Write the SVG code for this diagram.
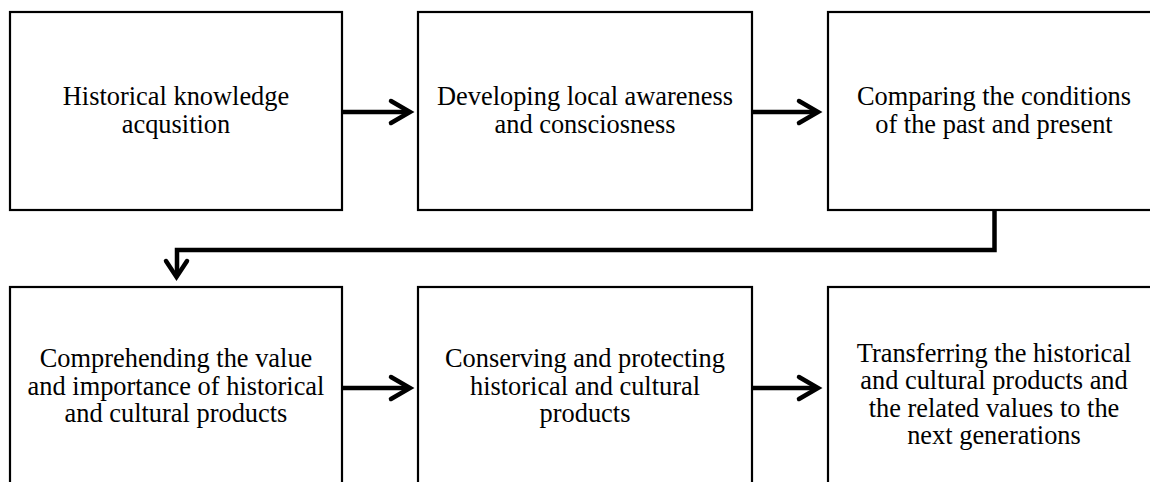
<svg xmlns="http://www.w3.org/2000/svg" width="1150" height="482" viewBox="0 0 1150 482">
<style>
.box{fill:#fff;stroke:#000;stroke-width:2.2}
.t{font-family:"Liberation Serif","Times New Roman",serif;font-size:26.4px;fill:#000;text-anchor:middle}
.ln{fill:none;stroke:#000;stroke-width:4.5}
.hd{fill:none;stroke:#000;stroke-width:4.5;stroke-linecap:round;stroke-linejoin:miter}
</style>
<rect width="1150" height="482" fill="#fff"/>
<g id="n1"><rect class="box" x="10" y="12" width="332" height="198"/>
<text class="t"><tspan x="176" y="105">Historical knowledge</tspan><tspan x="176" y="133">acqusition</tspan></text></g>
<g id="n2"><rect class="box" x="418" y="12" width="334" height="198"/>
<text class="t"><tspan x="585" y="105">Developing local awareness</tspan><tspan x="585" y="133">and consciosness</tspan></text></g>
<g id="n3"><rect class="box" x="828" y="12" width="332" height="198"/>
<text class="t"><tspan x="994" y="105">Comparing the conditions</tspan><tspan x="994" y="133">of the past and present</tspan></text></g>
<g id="n4"><rect class="box" x="10" y="287" width="332" height="210"/>
<text class="t"><tspan x="176" y="367">Comprehending the value</tspan><tspan x="176" y="395">and importance of historical</tspan><tspan x="176" y="422">and cultural products</tspan></text></g>
<g id="n5"><rect class="box" x="418" y="287" width="334" height="210"/>
<text class="t"><tspan x="585" y="367">Conserving and protecting</tspan><tspan x="585" y="395">historical and cultural</tspan><tspan x="585" y="422">products</tspan></text></g>
<g id="n6"><rect class="box" x="828" y="287" width="332" height="210"/>
<text class="t"><tspan x="994" y="362">Transferring the historical</tspan><tspan x="994" y="389">and cultural products and</tspan><tspan x="994" y="417">the related values to the</tspan><tspan x="994" y="444">next generations</tspan></text></g>
<g id="connectors">
<line class="ln" x1="343" y1="112" x2="409" y2="112"/>
<polyline class="hd" points="391,101 410,112 391,123"/>
<line class="ln" x1="753" y1="112" x2="817" y2="112"/>
<polyline class="hd" points="799,101 818,112 799,123"/>
<polyline class="ln" points="994.5,210 994.5,250 177,250 177,275"/>
<polyline class="hd" points="166,261 176.5,277 187,261"/>
<line class="ln" x1="343" y1="388" x2="409" y2="388"/>
<polyline class="hd" points="391,377 410,388 391,399"/>
<line class="ln" x1="753" y1="388" x2="817" y2="388"/>
<polyline class="hd" points="799,377 818,388 799,399"/>
</g>
</svg>
